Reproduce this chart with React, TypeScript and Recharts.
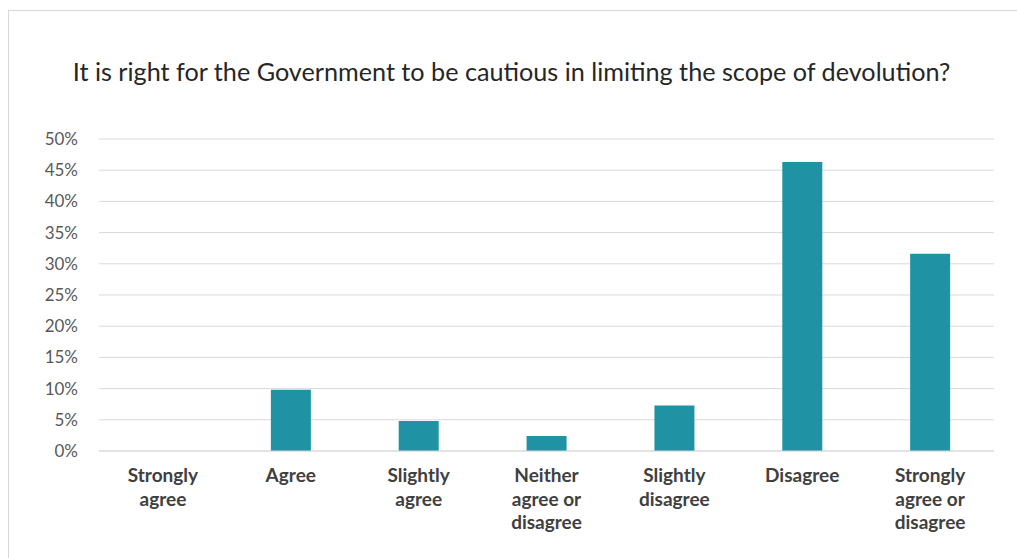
import { Bar, BarChart, CartesianGrid, XAxis, YAxis } from "recharts"

const title = "It is right for the Government to be cautious in limiting the scope of devolution?"

const categories = [
  "Strongly agree",
  "Agree",
  "Slightly agree",
  "Neither agree or disagree",
  "Slightly disagree",
  "Disagree",
  "Strongly agree or disagree",
]

// how each category label wraps under the axis
const labelLines = [
  ["Strongly", "agree"],
  ["Agree"],
  ["Slightly", "agree"],
  ["Neither", "agree or", "disagree"],
  ["Slightly", "disagree"],
  ["Disagree"],
  ["Strongly", "agree or", "disagree"],
]

const shares = [0, 9.8, 4.8, 2.4, 7.3, 46.3, 31.6]

const yTicks = [0, 5, 10, 15, 20, 25, 30, 35, 40, 45, 50]

const data = categories.map((name, i) => ({ name, value: shares[i] }))

function CategoryTick({ x, y, payload }: { x?: number; y?: number; payload?: { value: string } }) {
  const idx = categories.indexOf(payload?.value ?? "")
  const lines = idx >= 0 ? labelLines[idx] : [payload?.value ?? ""]
  return (
    <text
      x={x}
      y={y}
      textAnchor="middle"
      fill="#404040"
      fontFamily="Lato, sans-serif"
      fontWeight={700}
      fontSize={19}
    >
      {lines.map((line, i) => (
        <tspan key={i} x={x} dy={i === 0 ? 23 : 23.5}>
          {line}
        </tspan>
      ))}
    </text>
  )
}

export default function App() {
  return (
    <div style={{ position: "absolute", left: 0, top: 0, width: 1017, height: 558, background: "#fff", overflow: "hidden" }}>
      <div
        style={{
          position: "absolute",
          left: 8,
          top: 10,
          width: 1040,
          height: 580,
          borderLeft: "1px solid #d9d9d9",
          borderTop: "1px solid #d9d9d9",
        }}
      />
      <div
        style={{
          position: "absolute",
          left: 0,
          width: 1023,
          top: 56,
          textAlign: "center",
          fontFamily: "Lato, sans-serif",
          fontSize: 25.2,
          color: "#262626",
          whiteSpace: "nowrap",
        }}
      >
        {title}
      </div>
      <div style={{ position: "absolute", left: 0, top: 0 }}>
        <BarChart width={1017} height={558} data={data} margin={{ top: 139, right: 23, left: 0, bottom: 0 }}>
          <CartesianGrid vertical={false} stroke="#d9d9d9" strokeWidth={1} />
          <XAxis
            dataKey="name"
            axisLine={{ stroke: "#d9d9d9" }}
            tickLine={false}
            interval={0}
            height={107}
            tick={<CategoryTick />}
          />
          <YAxis
            domain={[0, 50]}
            ticks={yTicks}
            interval={0}
            width={99}
            axisLine={false}
            tickLine={false}
            tickSize={0}
            tickMargin={21}
            tickFormatter={(v: number) => `${v}%`}
            tick={{ fill: "#595959", fontSize: 17, fontFamily: "Lato, sans-serif" }}
          />
          <Bar dataKey="value" fill="#1f93a3" barSize={40} isAnimationActive={false} />
        </BarChart>
      </div>
    </div>
  )
}
